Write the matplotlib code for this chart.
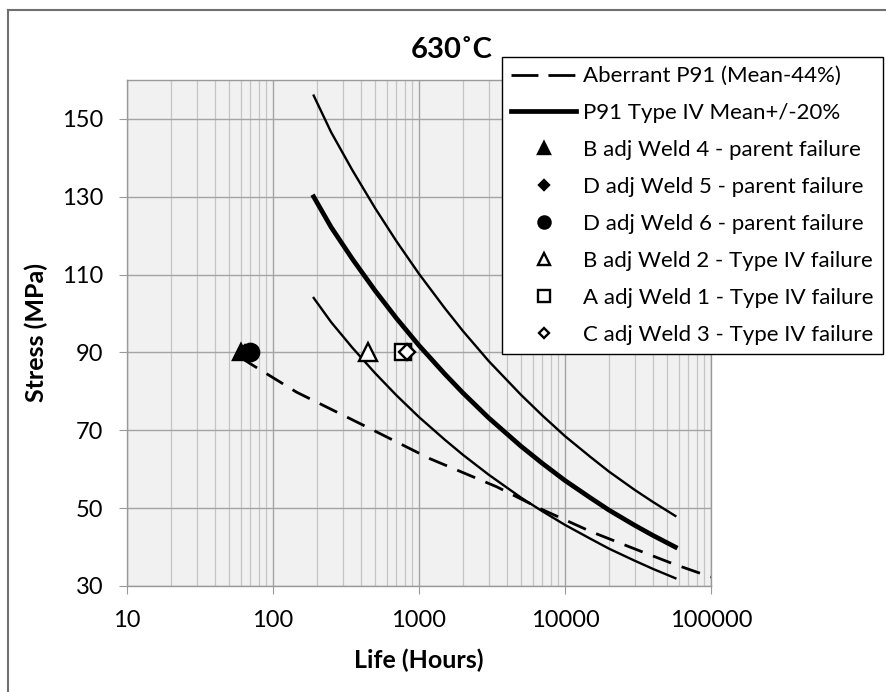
import matplotlib.pyplot as plt
from matplotlib.lines import Line2D
from matplotlib.ticker import FixedLocator, FixedFormatter, LogLocator, NullFormatter

# ============================================
# フォント
# ============================================
plt.rcParams["font.family"] = ["Lato", "DejaVu Sans"]

# ============================================
# データ
# ============================================
MEAN_LIFE = [190, 250, 350, 500, 700, 1000, 1500, 2000, 3000,
             5000, 7000, 10000, 15000, 20000, 30000, 40000, 57000]
MEAN_STRESS = [130, 122.2, 114.0, 105.9, 98.8, 91.8, 84.5, 79.6, 73.2,
               65.9, 61.5, 57.1, 52.6, 49.5, 45.6, 43.0, 40]
UPPER_STRESS = [156, 146.6, 136.8, 127.1, 118.6, 110.2, 101.4, 95.5, 87.8,
                79.1, 73.8, 68.5, 63.1, 59.4, 54.7, 51.6, 48]
LOWER_STRESS = [104, 97.8, 91.2, 84.7, 79.0, 73.4, 67.6, 63.7, 58.6,
                52.7, 49.2, 45.7, 42.1, 39.6, 36.5, 34.4, 32]

ABERRANT_LIFE = [60, 70, 145, 416, 1190, 3400, 6740, 15000, 27900, 55000, 100000]
ABERRANT_STRESS = [88.7, 87.1, 79.8, 71.3, 62.7, 55.5, 49.9, 44.0, 40.0, 35.7, 32.3]

POINT_LABELS = [
    "B adj Weld 4 - parent failure",
    "D adj Weld 5 - parent failure",
    "D adj Weld 6 - parent failure",
    "B adj Weld 2 - Type IV failure",
    "A adj Weld 1 - Type IV failure",
    "C adj Weld 3 - Type IV failure",
]
POINT_LIFE = [60, 64, 70, 450, 780, 830]
POINT_STRESS = [90, 90, 90, 90, 90, 90]

X_TICKS = [10, 100, 1000, 10000, 100000]
X_TICK_LABELS = ["10", "100", "1000", "10000", "100000"]
Y_TICKS = [30, 50, 70, 90, 110, 130, 150]

# マーカー設定 (形, 塗り, サイズ)
POINT_STYLES = [
    ("^", "black", 12),
    ("D", "black", 7),
    ("o", "black", 12.5),
    ("^", "white", 13),
    ("s", "white", 12),
    ("D", "white", 8),
]

# ============================================
# 図
# ============================================
W, H = 887, 692
fig = plt.figure(figsize=(W / 100, H / 100), dpi=100)
ax = fig.add_axes([127 / W, 1 - 586 / H, (711 - 127) / W, (586 - 80) / H])
ax.set_facecolor("#f1f1f1")

# 外枠 (左と上だけ見えている)
fig.add_artist(Line2D([8 / W, 8 / W], [0, 1 - 10 / H], color="#707070", lw=1.5))
fig.add_artist(Line2D([8 / W, 1], [1 - 10 / H, 1 - 10 / H], color="#707070", lw=1.5))

# 曲線
ax.plot(ABERRANT_LIFE, ABERRANT_STRESS, color="black", lw=2.0, dashes=(7, 4))
mean_line, = ax.plot(MEAN_LIFE, MEAN_STRESS, color="black", lw=3.4,
                     label="P91 Type IV Mean+/-20%")
ax.plot(MEAN_LIFE, UPPER_STRESS, color="black", lw=1.7)
ax.plot(MEAN_LIFE, LOWER_STRESS, color="black", lw=1.7)

# 凡例用の破線 (Excel風に2本の長い破線)
ab_handle = Line2D([], [], color="black", lw=2.0, dashes=(9.7, 3.6),
                   label="Aberrant P91 (Mean-44%)")

# 試験点
point_handles = []
for life, stress, label, (mk, fc, ms) in zip(POINT_LIFE, POINT_STRESS, POINT_LABELS, POINT_STYLES):
    h, = ax.plot([life], [stress], linestyle="none", marker=mk, markersize=ms,
                 markerfacecolor=fc, markeredgecolor="black", markeredgewidth=1.7,
                 label=label, zorder=5)
    point_handles.append(h)

# ============================================
# 軸
# ============================================
ax.set_xscale("log")
ax.set_xlim(10, 100000)
ax.set_ylim(30, 160)

ax.xaxis.set_major_locator(FixedLocator(X_TICKS))
ax.xaxis.set_major_formatter(FixedFormatter(X_TICK_LABELS))
ax.xaxis.set_minor_locator(LogLocator(base=10, subs=range(2, 10), numticks=20))
ax.xaxis.set_minor_formatter(NullFormatter())
ax.set_yticks(Y_TICKS)

ax.grid(True, which="major", color="#a4a4a4", lw=1.0)
ax.grid(True, which="minor", axis="x", color="#c4c4c4", lw=0.9)
ax.set_axisbelow(True)

for sp in ax.spines.values():
    sp.set_color("#9a9a9a")
    sp.set_linewidth(1.0)

ax.tick_params(axis="both", which="major", direction="out", length=6,
               color="#9a9a9a", labelsize=17, pad=11)
ax.tick_params(axis="x", which="minor", length=0)

ax.set_xlabel("Life (Hours)", fontsize=18, fontweight="bold", labelpad=13)
ax.set_ylabel("Stress (MPa)", fontsize=18, fontweight="bold", labelpad=10)

fig.text(452 / W, 1 - 50 / H, "630˚C", fontsize=21, fontweight="bold",
         ha="center", va="center")

# ============================================
# 凡例
# ============================================
leg = ax.legend(
    handles=[ab_handle, mean_line] + point_handles,
    loc="upper left",
    bbox_to_anchor=(502 / W, 1 - 57 / H),
    bbox_transform=fig.transFigure,
    fontsize=16,
    frameon=True,
    fancybox=False,
    framealpha=1,
    edgecolor="black",
    borderpad=0.42,
    labelspacing=0.76,
    handlelength=2.9,
    handletextpad=0.32,
    borderaxespad=0,
    markerscale=0.7,
)
leg.get_frame().set_linewidth(1.0)

plt.savefig("out.png", dpi=100)
plt.close()
